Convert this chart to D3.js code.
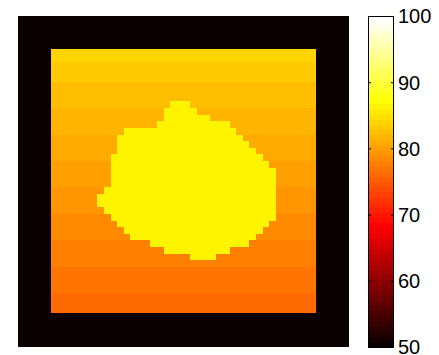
<!DOCTYPE html>
<html>
<head>
<meta charset="utf-8">
<script src="https://cdn.jsdelivr.net/npm/d3@7"></script>
<style>
  body { margin: 0; background: #fff; }
  text { font-family: "Liberation Sans", Arial, Helvetica, sans-serif; }
</style>
</head>
<body>
<div class="chart"></div>
<script>
// grid is 50 x 50 cells, outer 5 cells are the black frame
const gridSize = 50;
const frameCells = 5;
const frameValue = 50;

// one value per row of the inner 40 x 40 square (top to bottom)
const innerRowValues = [
  84.0, 84.0,
  83.2, 83.2, 83.2,
  82.4, 82.4, 82.4, 82.4,
  81.6, 81.6, 81.6, 81.6,
  80.9, 80.9, 80.9, 80.9,
  80.1, 80.1, 80.1, 80.1,
  79.3, 79.3, 79.3, 79.3,
  78.5, 78.5, 78.5, 78.5,
  77.7, 77.7, 77.7, 77.7,
  77.0, 77.0, 77.0, 77.0,
  76.2, 76.2, 76.2,
];

// yellow blob: rows and first/last column of each row
const blobValue = 86.3;
const blobRows  = [13, 14, 15, 16, 17, 18, 19, 20, 21, 22, 23, 24, 25, 26, 27, 28, 29, 30, 31, 32, 33, 34, 35, 36];
const blobStart = [23, 22, 22, 21, 16, 15, 15, 15, 14, 14, 14, 14, 14, 13, 12, 12, 13, 14, 15, 16, 17, 20, 22, 26];
const blobEnd   = [25, 26, 28, 31, 32, 33, 34, 35, 36, 37, 38, 38, 38, 38, 38, 38, 38, 38, 37, 36, 35, 34, 31, 29];

const colorTicks = [50, 60, 70, 80, 90, 100];
const colorDomain = [50, 100];
const colorLevels = 64;

// build the cell table
const cells = [];
for (let r = 0; r < gridSize; r++) {
  for (let c = 0; c < gridSize; c++) {
    let v = frameValue;
    const inner = r >= frameCells && r < gridSize - frameCells &&
                  c >= frameCells && c < gridSize - frameCells;
    if (inner) v = innerRowValues[r - frameCells];
    const bi = blobRows.indexOf(r);
    if (bi >= 0 && c >= blobStart[bi] && c <= blobEnd[bi]) v = blobValue;
    cells.push({ row: r, col: c, value: v });
  }
}

// matlab style "hot" map with 64 steps
function hot(v) {
  const t = (v - colorDomain[0]) / (colorDomain[1] - colorDomain[0]);
  const L = Math.max(1, Math.min(colorLevels, Math.floor(t * colorLevels) + 1));
  const cl = x => Math.max(0, Math.min(1, x));
  const r = cl(L / 24), g = cl((L - 24) / 24), b = cl((L - 48) / 16);
  return d3.rgb(r * 255, g * 255, b * 255).toString();
}

const W = 439, H = 355;
const svg = d3.select('.chart')
  .append('svg')
  .attr('width', W)
  .attr('height', H);

const img = { left: 18, top: 15.5, size: 330.7 };

const xScale = d3.scaleBand()
  .domain(d3.range(gridSize))
  .range([img.left, img.left + img.size]);
const yScale = d3.scaleBand()
  .domain(d3.range(gridSize))
  .range([img.top, img.top + img.size]);

svg.append('g')
  .attr('shape-rendering', 'crispEdges')
  .selectAll('rect')
  .data(cells)
  .enter()
  .append('rect')
  .attr('x', d => xScale(d.col))
  .attr('y', d => yScale(d.row))
  .attr('width', xScale.bandwidth() + 0.3)
  .attr('height', yScale.bandwidth() + 0.3)
  .attr('fill', d => hot(d.value));

// colorbar
const bar = { left: 368, right: 394, top: 16, bottom: 347 };
const cScale = d3.scaleLinear()
  .domain(colorDomain)
  .range([bar.bottom, bar.top]);

const levels = d3.range(colorLevels);
const step = (colorDomain[1] - colorDomain[0]) / colorLevels;

const cb = svg.append('g');
cb.append('g')
  .attr('shape-rendering', 'crispEdges')
  .selectAll('rect')
  .data(levels)
  .enter()
  .append('rect')
  .attr('x', bar.left)
  .attr('width', bar.right - bar.left)
  .attr('y', d => cScale(colorDomain[0] + (d + 1) * step))
  .attr('height', d => cScale(colorDomain[0] + d * step) - cScale(colorDomain[0] + (d + 1) * step) + 0.5)
  .attr('fill', d => hot(colorDomain[0] + (d + 0.5) * step));

cb.append('rect')
  .attr('x', bar.left + 0.5)
  .attr('y', bar.top + 0.5)
  .attr('width', bar.right - bar.left - 1)
  .attr('height', bar.bottom - bar.top - 1)
  .attr('fill', 'none')
  .attr('stroke', '#000')
  .attr('stroke-width', 1);

// ticks on both edges of the bar
const rightAxis = d3.axisRight(cScale).tickValues(colorTicks).tickSize(3).tickPadding(4);
const leftAxis = d3.axisLeft(cScale).tickValues(colorTicks).tickSize(3).tickFormat('');

const ra = cb.append('g')
  .attr('transform', `translate(${bar.right - 3}, 0)`)
  .call(rightAxis);
ra.select('.domain').remove();
ra.selectAll('line').attr('x2', 3).attr('stroke', '#000');
ra.selectAll('text')
  .attr('x', 7)
  .attr('dy', '0.34em')
  .attr('fill', '#000')
  .style('font-size', '20px');

const la = cb.append('g')
  .attr('transform', `translate(${bar.left + 3}, 0)`)
  .call(leftAxis);
la.select('.domain').remove();
la.selectAll('line').attr('stroke', '#000');
</script>
</body>
</html>
